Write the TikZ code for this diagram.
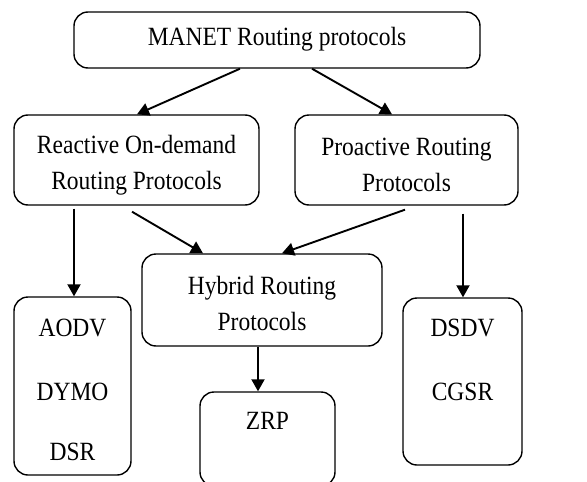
\documentclass[tikz,border=0pt]{standalone}
\usepackage{fontspec}
\setmainfont{Liberation Serif}
\usetikzlibrary{arrows.meta,calc}
\newcommand\stretchtxt[1]{\scalebox{1}[1.12]{#1}}
\begin{document}
\begin{tikzpicture}[x=1pt,y=-1pt,
  box/.style={draw, line width=1.4pt, rounded corners=14pt, inner sep=0pt},
  txt/.style={font=\fontsize{23.5}{36}\selectfont, align=center, inner sep=0pt},
  arr/.style={line width=1.9pt, -{Triangle[length=12pt,width=13pt]}}]
\useasboundingbox (0,0) rectangle (587,482);
% boxes
\node[box, minimum width=406pt, minimum height=56pt] (top) at (277,40) {};
\node[box, minimum width=245pt, minimum height=90pt] (react) at (136.5,160) {};
\node[box, minimum width=223pt, minimum height=90pt] (proact) at (406.5,160) {};
\node[box, minimum width=240pt, minimum height=92pt] (hybrid) at (262,300) {};
\node[box, minimum width=117pt, minimum height=178pt] (aodv) at (72.5,386) {};
\node[box, minimum width=135pt, minimum height=94pt] (zrp) at (267.5,439) {};
\node[box, minimum width=119pt, minimum height=167pt] (dsdv) at (462.5,381.5) {};
% texts
\node[txt] (ttop) at (277,39.5) {\stretchtxt{MANET Routing protocols}};
\node[txt] (treact) at (136.5,165) {\stretchtxt{Reactive On-demand}\\\stretchtxt{Routing Protocols}};
\node[txt] (tproact) at (406.5,165) {\stretchtxt{Proactive Routing}\\\stretchtxt{Protocols}};
\node[txt] (thybrid) at (262,303) {\stretchtxt{Hybrid Routing}\\\stretchtxt{Protocols}};
\node[txt] (taodv) at (72.5,328) {\stretchtxt{AODV}};
\node[txt] (tdymo) at (72.5,392) {\stretchtxt{DYMO}};
\node[txt] (tdsr) at (72.5,452) {\stretchtxt{DSR}};
\node[txt] (tzrp) at (267.5,421) {\stretchtxt{ZRP}};
\node[txt] (tdsdv) at (462.5,328) {\stretchtxt{DSDV}};
\node[txt] (tcgsr) at (462.5,392) {\stretchtxt{CGSR}};
% connectors
\draw[arr] ($(top.south)+(-37,0)$) -- ($(react.north)+(0.5,0)$);
\draw[arr] ($(top.south)+(35,0)$) -- ($(proact.north)+(-14.5,0)$);
\draw[arr] ($(react.south)+(-62.5,3)$) -- ($(aodv.north)+(1.5,0)$);
\draw[arr] ($(react.south)+(-4.5,6)$) -- ($(hybrid.north)+(-59,0)$);
\draw[arr] ($(proact.south)+(-1.5,4)$) -- ($(hybrid.north)+(20,0)$);
\draw[arr] ($(proact.south)+(56.5,8)$) -- ($(dsdv.north)+(0.5,0)$);
\draw[arr] ($(hybrid.south)+(-4,0)$) -- ($(zrp.north)+(-9.5,0)$);
\end{tikzpicture}
\end{document}
